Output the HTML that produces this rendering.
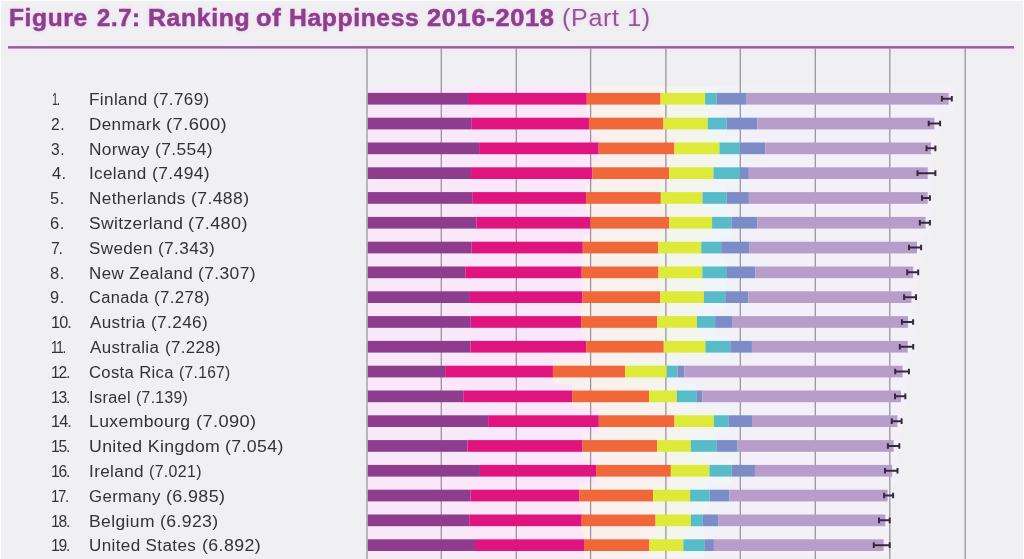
<!DOCTYPE html>
<html><head><meta charset="utf-8"><title>Figure 2.7</title>
<style>
html,body{margin:0;padding:0;}
body{width:1024px;height:559px;overflow:hidden;background:#f0f0f2;position:relative;font-family:"Liberation Sans",sans-serif;}
#title{position:absolute;left:0;top:3.0px;font-size:23px;line-height:30px;color:#8c3f8b;white-space:nowrap;letter-spacing:0.6px;-webkit-text-stroke:0.5px #8c3f8b;}
.tw{position:absolute;top:0;transform-origin:0 0;}
#title b{font-weight:bold;}
#title span{font-weight:normal;color:#8f5a93;-webkit-text-stroke:0;}
#rule{position:absolute;left:8px;top:46.3px;width:1006px;height:2.4px;background:#93609a;}
.lab{position:absolute;font-size:16px;line-height:18px;color:#333;white-space:nowrap;letter-spacing:0.35px;transform-origin:0 0;}
.rk{letter-spacing:-0.4px;}
svg{position:absolute;left:0;top:0;filter:blur(0.5px);}
#title,.lab{filter:blur(0.45px);}
#title{text-shadow:0 0 3px #f1d3f5,0 0 5px #f1d3f5;}
.edge{position:absolute;background:#fdfdfd;}
</style></head><body>

<div id="title"><b class="tw" style="left:8.53px;transform:scaleX(1.065)">Figure</b> <b class="tw" style="left:97.10px;transform:scaleX(1.038)">2.7:</b> <b class="tw" style="left:148.02px;transform:scaleX(1.077)">Ranking</b> <b class="tw" style="left:256.39px;transform:scaleX(1.109)">of</b> <b class="tw" style="left:289.23px;transform:scaleX(1.071)">Happiness</b> <b class="tw" style="left:426.70px;transform:scaleX(1.106)">2016-2018</b> <span class="tw" style="left:562.31px;transform:scaleX(1.090)">(Part 1)</span></div>
<svg width="1024" height="575" viewBox="0 0 1024 575">
<defs><linearGradient id="pg" x1="0" y1="0" x2="0" y2="1"><stop offset="0" stop-color="#f8e6fa" stop-opacity="0"/><stop offset="0.3" stop-color="#f8e6fa" stop-opacity="1"/><stop offset="0.62" stop-color="#f8e6fa" stop-opacity="1"/><stop offset="1" stop-color="#f8e6fa" stop-opacity="0"/></linearGradient></defs>
<rect x="6" y="41" width="1010" height="14" fill="url(#pg)"/>
<rect x="8" y="46.05" width="1006" height="2.5" fill="#8e6893"/>

<rect x="367.80" y="86.35" width="100.30" height="24.85" fill="#F8E8FA"/>
<rect x="468.05" y="86.35" width="118.77" height="24.85" fill="#FBE6FA"/>
<rect x="586.77" y="86.35" width="73.81" height="24.85" fill="#FAF1EF"/>
<rect x="660.53" y="86.35" width="44.64" height="24.85" fill="#F4F5EC"/>
<rect x="705.12" y="86.35" width="11.50" height="24.85" fill="#EFF5F8"/>
<rect x="716.56" y="86.35" width="29.45" height="24.85" fill="#F1F1FA"/>
<rect x="745.96" y="86.35" width="207.74" height="24.85" fill="#F3F0F8"/>
<rect x="367.80" y="111.15" width="103.51" height="24.85" fill="#F8E8FA"/>
<rect x="471.26" y="111.15" width="117.73" height="24.85" fill="#FBE6FA"/>
<rect x="588.94" y="111.15" width="74.56" height="24.85" fill="#FAF1EF"/>
<rect x="663.45" y="111.15" width="44.34" height="24.85" fill="#F4F5EC"/>
<rect x="707.74" y="111.15" width="18.90" height="24.85" fill="#EFF5F8"/>
<rect x="726.59" y="111.15" width="30.72" height="24.85" fill="#F1F1FA"/>
<rect x="757.26" y="111.15" width="182.14" height="24.85" fill="#F3F0F8"/>
<rect x="367.80" y="135.95" width="111.37" height="24.85" fill="#F8E8FA"/>
<rect x="479.12" y="135.95" width="119.60" height="24.85" fill="#FBE6FA"/>
<rect x="598.66" y="135.95" width="75.76" height="24.85" fill="#FAF1EF"/>
<rect x="674.37" y="135.95" width="45.16" height="24.85" fill="#F4F5EC"/>
<rect x="719.48" y="135.95" width="20.32" height="24.85" fill="#EFF5F8"/>
<rect x="739.76" y="135.95" width="25.56" height="24.85" fill="#F1F1FA"/>
<rect x="765.27" y="135.95" width="170.63" height="24.85" fill="#F3F0F8"/>
<rect x="367.80" y="160.75" width="103.29" height="24.85" fill="#F8E8FA"/>
<rect x="471.04" y="160.75" width="121.54" height="24.85" fill="#FBE6FA"/>
<rect x="592.53" y="160.75" width="76.81" height="24.85" fill="#FAF1EF"/>
<rect x="669.28" y="160.75" width="44.26" height="24.85" fill="#F4F5EC"/>
<rect x="713.50" y="160.75" width="26.53" height="24.85" fill="#EFF5F8"/>
<rect x="739.98" y="160.75" width="8.88" height="24.85" fill="#F1F1FA"/>
<rect x="748.81" y="160.75" width="183.89" height="24.85" fill="#F3F0F8"/>
<rect x="367.80" y="185.55" width="104.48" height="24.85" fill="#F8E8FA"/>
<rect x="472.23" y="185.55" width="113.91" height="24.85" fill="#FBE6FA"/>
<rect x="586.10" y="185.55" width="74.79" height="24.85" fill="#FAF1EF"/>
<rect x="660.83" y="185.55" width="41.72" height="24.85" fill="#F4F5EC"/>
<rect x="702.50" y="185.55" width="24.14" height="24.85" fill="#EFF5F8"/>
<rect x="726.59" y="185.55" width="22.34" height="24.85" fill="#F1F1FA"/>
<rect x="748.88" y="185.55" width="183.82" height="24.85" fill="#F3F0F8"/>
<rect x="367.80" y="210.35" width="108.67" height="24.85" fill="#F8E8FA"/>
<rect x="476.42" y="210.35" width="114.21" height="24.85" fill="#FBE6FA"/>
<rect x="590.58" y="210.35" width="78.75" height="24.85" fill="#FAF1EF"/>
<rect x="669.28" y="210.35" width="42.84" height="24.85" fill="#F4F5EC"/>
<rect x="712.08" y="210.35" width="19.73" height="24.85" fill="#EFF5F8"/>
<rect x="731.75" y="210.35" width="25.71" height="24.85" fill="#F1F1FA"/>
<rect x="757.41" y="210.35" width="173.09" height="24.85" fill="#F3F0F8"/>
<rect x="367.80" y="235.15" width="103.81" height="24.85" fill="#F8E8FA"/>
<rect x="471.56" y="235.15" width="111.29" height="24.85" fill="#FBE6FA"/>
<rect x="582.80" y="235.15" width="75.53" height="24.85" fill="#FAF1EF"/>
<rect x="658.29" y="235.15" width="42.99" height="24.85" fill="#F4F5EC"/>
<rect x="701.23" y="235.15" width="20.02" height="24.85" fill="#EFF5F8"/>
<rect x="721.20" y="235.15" width="27.95" height="24.85" fill="#F1F1FA"/>
<rect x="749.11" y="235.15" width="172.89" height="24.85" fill="#F3F0F8"/>
<rect x="367.80" y="259.95" width="97.53" height="24.85" fill="#F8E8FA"/>
<rect x="465.28" y="259.95" width="116.53" height="24.85" fill="#FBE6FA"/>
<rect x="581.76" y="259.95" width="76.81" height="24.85" fill="#FAF1EF"/>
<rect x="658.51" y="259.95" width="43.81" height="24.85" fill="#F4F5EC"/>
<rect x="702.28" y="259.95" width="24.74" height="24.85" fill="#EFF5F8"/>
<rect x="726.96" y="259.95" width="28.48" height="24.85" fill="#F1F1FA"/>
<rect x="755.39" y="259.95" width="162.81" height="24.85" fill="#F3F0F8"/>
<rect x="367.80" y="284.75" width="102.17" height="24.85" fill="#F8E8FA"/>
<rect x="469.92" y="284.75" width="112.64" height="24.85" fill="#FBE6FA"/>
<rect x="582.50" y="284.75" width="77.78" height="24.85" fill="#FAF1EF"/>
<rect x="660.23" y="284.75" width="43.74" height="24.85" fill="#F4F5EC"/>
<rect x="703.92" y="284.75" width="21.37" height="24.85" fill="#EFF5F8"/>
<rect x="725.24" y="284.75" width="23.09" height="24.85" fill="#F1F1FA"/>
<rect x="748.28" y="284.75" width="168.12" height="24.85" fill="#F3F0F8"/>
<rect x="367.80" y="309.55" width="102.99" height="24.85" fill="#F8E8FA"/>
<rect x="470.74" y="309.55" width="110.39" height="24.85" fill="#FBE6FA"/>
<rect x="581.08" y="309.55" width="76.06" height="24.85" fill="#FAF1EF"/>
<rect x="657.09" y="309.55" width="39.85" height="24.85" fill="#F4F5EC"/>
<rect x="696.89" y="309.55" width="18.30" height="24.85" fill="#EFF5F8"/>
<rect x="715.14" y="309.55" width="16.96" height="24.85" fill="#F1F1FA"/>
<rect x="732.05" y="309.55" width="180.95" height="24.85" fill="#F3F0F8"/>
<rect x="367.80" y="334.35" width="102.69" height="24.85" fill="#F8E8FA"/>
<rect x="470.44" y="334.35" width="115.86" height="24.85" fill="#FBE6FA"/>
<rect x="586.25" y="334.35" width="77.55" height="24.85" fill="#FAF1EF"/>
<rect x="663.75" y="334.35" width="41.72" height="24.85" fill="#F4F5EC"/>
<rect x="705.42" y="334.35" width="24.89" height="24.85" fill="#EFF5F8"/>
<rect x="730.25" y="334.35" width="21.74" height="24.85" fill="#F1F1FA"/>
<rect x="751.95" y="334.35" width="160.75" height="24.85" fill="#F3F0F8"/>
<rect x="367.80" y="359.15" width="77.40" height="24.85" fill="#F8E8FA"/>
<rect x="445.15" y="359.15" width="107.85" height="24.85" fill="#FBE6FA"/>
<rect x="552.95" y="359.15" width="72.09" height="24.85" fill="#FAF1EF"/>
<rect x="625.00" y="359.15" width="41.79" height="24.85" fill="#F4F5EC"/>
<rect x="666.74" y="359.15" width="10.82" height="24.85" fill="#EFF5F8"/>
<rect x="677.51" y="359.15" width="7.01" height="24.85" fill="#F1F1FA"/>
<rect x="684.47" y="359.15" width="223.13" height="24.85" fill="#F3F0F8"/>
<rect x="367.80" y="383.95" width="95.51" height="24.85" fill="#F8E8FA"/>
<rect x="463.26" y="383.95" width="108.90" height="24.85" fill="#FBE6FA"/>
<rect x="572.11" y="383.95" width="77.03" height="24.85" fill="#FAF1EF"/>
<rect x="649.09" y="383.95" width="27.80" height="24.85" fill="#F4F5EC"/>
<rect x="676.84" y="383.95" width="19.58" height="24.85" fill="#EFF5F8"/>
<rect x="696.37" y="383.95" width="6.18" height="24.85" fill="#F1F1FA"/>
<rect x="702.50" y="383.95" width="203.50" height="24.85" fill="#F3F0F8"/>
<rect x="367.80" y="408.75" width="120.42" height="24.85" fill="#F8E8FA"/>
<rect x="488.17" y="408.75" width="110.69" height="24.85" fill="#FBE6FA"/>
<rect x="598.81" y="408.75" width="75.76" height="24.85" fill="#FAF1EF"/>
<rect x="674.52" y="408.75" width="39.40" height="24.85" fill="#F4F5EC"/>
<rect x="713.87" y="408.75" width="14.56" height="24.85" fill="#EFF5F8"/>
<rect x="728.38" y="408.75" width="23.69" height="24.85" fill="#F1F1FA"/>
<rect x="752.02" y="408.75" width="150.38" height="24.85" fill="#F3F0F8"/>
<rect x="367.80" y="433.55" width="99.77" height="24.85" fill="#F8E8FA"/>
<rect x="467.52" y="433.55" width="115.11" height="24.85" fill="#FBE6FA"/>
<rect x="582.58" y="433.55" width="74.56" height="24.85" fill="#FAF1EF"/>
<rect x="657.09" y="433.55" width="33.71" height="24.85" fill="#F4F5EC"/>
<rect x="690.75" y="433.55" width="26.08" height="24.85" fill="#EFF5F8"/>
<rect x="716.79" y="433.55" width="20.85" height="24.85" fill="#F1F1FA"/>
<rect x="737.59" y="433.55" width="161.01" height="24.85" fill="#F3F0F8"/>
<rect x="367.80" y="458.35" width="112.19" height="24.85" fill="#F8E8FA"/>
<rect x="479.94" y="458.35" width="116.23" height="24.85" fill="#FBE6FA"/>
<rect x="596.12" y="458.35" width="74.79" height="24.85" fill="#FAF1EF"/>
<rect x="670.86" y="458.35" width="38.65" height="24.85" fill="#F4F5EC"/>
<rect x="709.46" y="458.35" width="22.34" height="24.85" fill="#EFF5F8"/>
<rect x="731.75" y="458.35" width="23.24" height="24.85" fill="#F1F1FA"/>
<rect x="754.94" y="458.35" width="142.16" height="24.85" fill="#F3F0F8"/>
<rect x="367.80" y="483.15" width="102.76" height="24.85" fill="#F8E8FA"/>
<rect x="470.51" y="483.15" width="108.82" height="24.85" fill="#FBE6FA"/>
<rect x="579.29" y="483.15" width="73.89" height="24.85" fill="#FAF1EF"/>
<rect x="653.13" y="483.15" width="37.08" height="24.85" fill="#F4F5EC"/>
<rect x="690.16" y="483.15" width="19.58" height="24.85" fill="#EFF5F8"/>
<rect x="709.68" y="483.15" width="19.87" height="24.85" fill="#F1F1FA"/>
<rect x="729.51" y="483.15" width="163.09" height="24.85" fill="#F3F0F8"/>
<rect x="367.80" y="507.95" width="101.49" height="24.85" fill="#F8E8FA"/>
<rect x="469.24" y="507.95" width="112.56" height="24.85" fill="#FBE6FA"/>
<rect x="581.76" y="507.95" width="73.81" height="24.85" fill="#FAF1EF"/>
<rect x="655.52" y="507.95" width="35.44" height="24.85" fill="#F4F5EC"/>
<rect x="690.90" y="507.95" width="12.02" height="24.85" fill="#EFF5F8"/>
<rect x="702.87" y="507.95" width="15.76" height="24.85" fill="#F1F1FA"/>
<rect x="718.58" y="507.95" width="171.72" height="24.85" fill="#F3F0F8"/>
<rect x="367.80" y="532.75" width="107.25" height="24.85" fill="#F8E8FA"/>
<rect x="475.00" y="532.75" width="109.05" height="24.85" fill="#FBE6FA"/>
<rect x="584.00" y="532.75" width="65.43" height="24.85" fill="#FAF1EF"/>
<rect x="649.38" y="532.75" width="34.01" height="24.85" fill="#F4F5EC"/>
<rect x="683.35" y="532.75" width="21.00" height="24.85" fill="#EFF5F8"/>
<rect x="704.30" y="532.75" width="9.63" height="24.85" fill="#F1F1FA"/>
<rect x="713.87" y="532.75" width="174.73" height="24.85" fill="#F3F0F8"/>
<rect x="366.35" y="48" width="1.3" height="525" fill="#98959b"/>
<rect x="440.65" y="48" width="1.3" height="525" fill="#98959b"/>
<rect x="515.65" y="48" width="1.3" height="525" fill="#98959b"/>
<rect x="589.95" y="48" width="1.3" height="525" fill="#98959b"/>
<rect x="665.25" y="48" width="1.3" height="525" fill="#98959b"/>
<rect x="739.65" y="48" width="1.3" height="525" fill="#98959b"/>
<rect x="814.65" y="48" width="1.3" height="525" fill="#98959b"/>
<rect x="889.15" y="48" width="1.3" height="525" fill="#98959b"/>
<rect x="964.55" y="48" width="1.3" height="525" fill="#98959b"/>
<rect x="367.80" y="92.90" width="100.25" height="11.7" fill="#8E3C8D"/>
<rect x="468.05" y="92.90" width="118.72" height="11.7" fill="#E0147F"/>
<rect x="586.77" y="92.90" width="73.76" height="11.7" fill="#F0683A"/>
<rect x="660.53" y="92.90" width="44.59" height="11.7" fill="#DDEA3A"/>
<rect x="705.12" y="92.90" width="11.45" height="11.7" fill="#58BCC8"/>
<rect x="716.56" y="92.90" width="29.40" height="11.7" fill="#7B8CC6"/>
<rect x="745.96" y="92.90" width="202.74" height="11.7" fill="#B79ECA"/>
<path d="M941.90 98.75H951.80M941.90 95.95v5.6M951.80 95.95v5.6" stroke="#35283f" stroke-width="2" fill="none"/>
<rect x="367.80" y="117.70" width="103.46" height="11.7" fill="#8E3C8D"/>
<rect x="471.26" y="117.70" width="117.68" height="11.7" fill="#E0147F"/>
<rect x="588.94" y="117.70" width="74.51" height="11.7" fill="#F0683A"/>
<rect x="663.45" y="117.70" width="44.29" height="11.7" fill="#DDEA3A"/>
<rect x="707.74" y="117.70" width="18.85" height="11.7" fill="#58BCC8"/>
<rect x="726.59" y="117.70" width="30.67" height="11.7" fill="#7B8CC6"/>
<rect x="757.26" y="117.70" width="177.14" height="11.7" fill="#B79ECA"/>
<path d="M928.70 123.55H940.10M928.70 120.75v5.6M940.10 120.75v5.6" stroke="#35283f" stroke-width="2" fill="none"/>
<rect x="367.80" y="142.50" width="111.32" height="11.7" fill="#8E3C8D"/>
<rect x="479.12" y="142.50" width="119.55" height="11.7" fill="#E0147F"/>
<rect x="598.66" y="142.50" width="75.71" height="11.7" fill="#F0683A"/>
<rect x="674.37" y="142.50" width="45.11" height="11.7" fill="#DDEA3A"/>
<rect x="719.48" y="142.50" width="20.27" height="11.7" fill="#58BCC8"/>
<rect x="739.76" y="142.50" width="25.51" height="11.7" fill="#7B8CC6"/>
<rect x="765.27" y="142.50" width="165.63" height="11.7" fill="#B79ECA"/>
<path d="M926.50 148.35H935.40M926.50 145.55v5.6M935.40 145.55v5.6" stroke="#35283f" stroke-width="2" fill="none"/>
<rect x="367.80" y="167.30" width="103.24" height="11.7" fill="#8E3C8D"/>
<rect x="471.04" y="167.30" width="121.49" height="11.7" fill="#E0147F"/>
<rect x="592.53" y="167.30" width="76.76" height="11.7" fill="#F0683A"/>
<rect x="669.28" y="167.30" width="44.21" height="11.7" fill="#DDEA3A"/>
<rect x="713.50" y="167.30" width="26.48" height="11.7" fill="#58BCC8"/>
<rect x="739.98" y="167.30" width="8.83" height="11.7" fill="#7B8CC6"/>
<rect x="748.81" y="167.30" width="178.89" height="11.7" fill="#B79ECA"/>
<path d="M917.50 173.15H935.40M917.50 170.35v5.6M935.40 170.35v5.6" stroke="#35283f" stroke-width="2" fill="none"/>
<rect x="367.80" y="192.10" width="104.43" height="11.7" fill="#8E3C8D"/>
<rect x="472.23" y="192.10" width="113.86" height="11.7" fill="#E0147F"/>
<rect x="586.10" y="192.10" width="74.74" height="11.7" fill="#F0683A"/>
<rect x="660.83" y="192.10" width="41.67" height="11.7" fill="#DDEA3A"/>
<rect x="702.50" y="192.10" width="24.09" height="11.7" fill="#58BCC8"/>
<rect x="726.59" y="192.10" width="22.29" height="11.7" fill="#7B8CC6"/>
<rect x="748.88" y="192.10" width="178.82" height="11.7" fill="#B79ECA"/>
<path d="M922.00 197.95H929.90M922.00 195.15v5.6M929.90 195.15v5.6" stroke="#35283f" stroke-width="2" fill="none"/>
<rect x="367.80" y="216.90" width="108.62" height="11.7" fill="#8E3C8D"/>
<rect x="476.42" y="216.90" width="114.16" height="11.7" fill="#E0147F"/>
<rect x="590.58" y="216.90" width="78.70" height="11.7" fill="#F0683A"/>
<rect x="669.28" y="216.90" width="42.79" height="11.7" fill="#DDEA3A"/>
<rect x="712.08" y="216.90" width="19.68" height="11.7" fill="#58BCC8"/>
<rect x="731.75" y="216.90" width="25.66" height="11.7" fill="#7B8CC6"/>
<rect x="757.41" y="216.90" width="168.09" height="11.7" fill="#B79ECA"/>
<path d="M919.80 222.75H929.90M919.80 219.95v5.6M929.90 219.95v5.6" stroke="#35283f" stroke-width="2" fill="none"/>
<rect x="367.80" y="241.70" width="103.76" height="11.7" fill="#8E3C8D"/>
<rect x="471.56" y="241.70" width="111.24" height="11.7" fill="#E0147F"/>
<rect x="582.80" y="241.70" width="75.48" height="11.7" fill="#F0683A"/>
<rect x="658.29" y="241.70" width="42.94" height="11.7" fill="#DDEA3A"/>
<rect x="701.23" y="241.70" width="19.97" height="11.7" fill="#58BCC8"/>
<rect x="721.20" y="241.70" width="27.90" height="11.7" fill="#7B8CC6"/>
<rect x="749.11" y="241.70" width="167.89" height="11.7" fill="#B79ECA"/>
<path d="M909.00 247.55H921.10M909.00 244.75v5.6M921.10 244.75v5.6" stroke="#35283f" stroke-width="2" fill="none"/>
<rect x="367.80" y="266.50" width="97.48" height="11.7" fill="#8E3C8D"/>
<rect x="465.28" y="266.50" width="116.48" height="11.7" fill="#E0147F"/>
<rect x="581.76" y="266.50" width="76.76" height="11.7" fill="#F0683A"/>
<rect x="658.51" y="266.50" width="43.76" height="11.7" fill="#DDEA3A"/>
<rect x="702.28" y="266.50" width="24.69" height="11.7" fill="#58BCC8"/>
<rect x="726.96" y="266.50" width="28.43" height="11.7" fill="#7B8CC6"/>
<rect x="755.39" y="266.50" width="157.81" height="11.7" fill="#B79ECA"/>
<path d="M907.20 272.35H918.20M907.20 269.55v5.6M918.20 269.55v5.6" stroke="#35283f" stroke-width="2" fill="none"/>
<rect x="367.80" y="291.30" width="102.12" height="11.7" fill="#8E3C8D"/>
<rect x="469.92" y="291.30" width="112.59" height="11.7" fill="#E0147F"/>
<rect x="582.50" y="291.30" width="77.73" height="11.7" fill="#F0683A"/>
<rect x="660.23" y="291.30" width="43.69" height="11.7" fill="#DDEA3A"/>
<rect x="703.92" y="291.30" width="21.32" height="11.7" fill="#58BCC8"/>
<rect x="725.24" y="291.30" width="23.04" height="11.7" fill="#7B8CC6"/>
<rect x="748.28" y="291.30" width="163.12" height="11.7" fill="#B79ECA"/>
<path d="M904.10 297.15H916.00M904.10 294.35v5.6M916.00 294.35v5.6" stroke="#35283f" stroke-width="2" fill="none"/>
<rect x="367.80" y="316.10" width="102.94" height="11.7" fill="#8E3C8D"/>
<rect x="470.74" y="316.10" width="110.34" height="11.7" fill="#E0147F"/>
<rect x="581.08" y="316.10" width="76.01" height="11.7" fill="#F0683A"/>
<rect x="657.09" y="316.10" width="39.80" height="11.7" fill="#DDEA3A"/>
<rect x="696.89" y="316.10" width="18.25" height="11.7" fill="#58BCC8"/>
<rect x="715.14" y="316.10" width="16.91" height="11.7" fill="#7B8CC6"/>
<rect x="732.05" y="316.10" width="175.95" height="11.7" fill="#B79ECA"/>
<path d="M901.90 321.95H913.10M901.90 319.15v5.6M913.10 319.15v5.6" stroke="#35283f" stroke-width="2" fill="none"/>
<rect x="367.80" y="340.90" width="102.64" height="11.7" fill="#8E3C8D"/>
<rect x="470.44" y="340.90" width="115.81" height="11.7" fill="#E0147F"/>
<rect x="586.25" y="340.90" width="77.50" height="11.7" fill="#F0683A"/>
<rect x="663.75" y="340.90" width="41.67" height="11.7" fill="#DDEA3A"/>
<rect x="705.42" y="340.90" width="24.84" height="11.7" fill="#58BCC8"/>
<rect x="730.25" y="340.90" width="21.69" height="11.7" fill="#7B8CC6"/>
<rect x="751.95" y="340.90" width="155.75" height="11.7" fill="#B79ECA"/>
<path d="M899.80 346.75H913.20M899.80 343.95v5.6M913.20 343.95v5.6" stroke="#35283f" stroke-width="2" fill="none"/>
<rect x="367.80" y="365.70" width="77.35" height="11.7" fill="#8E3C8D"/>
<rect x="445.15" y="365.70" width="107.80" height="11.7" fill="#E0147F"/>
<rect x="552.95" y="365.70" width="72.04" height="11.7" fill="#F0683A"/>
<rect x="625.00" y="365.70" width="41.74" height="11.7" fill="#DDEA3A"/>
<rect x="666.74" y="365.70" width="10.77" height="11.7" fill="#58BCC8"/>
<rect x="677.51" y="365.70" width="6.96" height="11.7" fill="#7B8CC6"/>
<rect x="684.47" y="365.70" width="218.13" height="11.7" fill="#B79ECA"/>
<path d="M895.25 371.55H908.95M895.25 368.75v5.6M908.95 368.75v5.6" stroke="#35283f" stroke-width="2" fill="none"/>
<rect x="367.80" y="390.50" width="95.46" height="11.7" fill="#8E3C8D"/>
<rect x="463.26" y="390.50" width="108.85" height="11.7" fill="#E0147F"/>
<rect x="572.11" y="390.50" width="76.98" height="11.7" fill="#F0683A"/>
<rect x="649.09" y="390.50" width="27.75" height="11.7" fill="#DDEA3A"/>
<rect x="676.84" y="390.50" width="19.53" height="11.7" fill="#58BCC8"/>
<rect x="696.37" y="390.50" width="6.13" height="11.7" fill="#7B8CC6"/>
<rect x="702.50" y="390.50" width="198.50" height="11.7" fill="#B79ECA"/>
<path d="M895.05 396.35H905.35M895.05 393.55v5.6M905.35 393.55v5.6" stroke="#35283f" stroke-width="2" fill="none"/>
<rect x="367.80" y="415.30" width="120.37" height="11.7" fill="#8E3C8D"/>
<rect x="488.17" y="415.30" width="110.64" height="11.7" fill="#E0147F"/>
<rect x="598.81" y="415.30" width="75.71" height="11.7" fill="#F0683A"/>
<rect x="674.52" y="415.30" width="39.35" height="11.7" fill="#DDEA3A"/>
<rect x="713.87" y="415.30" width="14.51" height="11.7" fill="#58BCC8"/>
<rect x="728.38" y="415.30" width="23.64" height="11.7" fill="#7B8CC6"/>
<rect x="752.02" y="415.30" width="145.38" height="11.7" fill="#B79ECA"/>
<path d="M891.70 421.15H901.60M891.70 418.35v5.6M901.60 418.35v5.6" stroke="#35283f" stroke-width="2" fill="none"/>
<rect x="367.80" y="440.10" width="99.72" height="11.7" fill="#8E3C8D"/>
<rect x="467.52" y="440.10" width="115.06" height="11.7" fill="#E0147F"/>
<rect x="582.58" y="440.10" width="74.51" height="11.7" fill="#F0683A"/>
<rect x="657.09" y="440.10" width="33.66" height="11.7" fill="#DDEA3A"/>
<rect x="690.75" y="440.10" width="26.03" height="11.7" fill="#58BCC8"/>
<rect x="716.79" y="440.10" width="20.80" height="11.7" fill="#7B8CC6"/>
<rect x="737.59" y="440.10" width="156.01" height="11.7" fill="#B79ECA"/>
<path d="M887.90 445.95H899.30M887.90 443.15v5.6M899.30 443.15v5.6" stroke="#35283f" stroke-width="2" fill="none"/>
<rect x="367.80" y="464.90" width="112.14" height="11.7" fill="#8E3C8D"/>
<rect x="479.94" y="464.90" width="116.18" height="11.7" fill="#E0147F"/>
<rect x="596.12" y="464.90" width="74.74" height="11.7" fill="#F0683A"/>
<rect x="670.86" y="464.90" width="38.60" height="11.7" fill="#DDEA3A"/>
<rect x="709.46" y="464.90" width="22.29" height="11.7" fill="#58BCC8"/>
<rect x="731.75" y="464.90" width="23.19" height="11.7" fill="#7B8CC6"/>
<rect x="754.94" y="464.90" width="137.16" height="11.7" fill="#B79ECA"/>
<path d="M885.00 470.75H897.50M885.00 467.95v5.6M897.50 467.95v5.6" stroke="#35283f" stroke-width="2" fill="none"/>
<rect x="367.80" y="489.70" width="102.71" height="11.7" fill="#8E3C8D"/>
<rect x="470.51" y="489.70" width="108.77" height="11.7" fill="#E0147F"/>
<rect x="579.29" y="489.70" width="73.84" height="11.7" fill="#F0683A"/>
<rect x="653.13" y="489.70" width="37.03" height="11.7" fill="#DDEA3A"/>
<rect x="690.16" y="489.70" width="19.53" height="11.7" fill="#58BCC8"/>
<rect x="709.68" y="489.70" width="19.82" height="11.7" fill="#7B8CC6"/>
<rect x="729.51" y="489.70" width="158.09" height="11.7" fill="#B79ECA"/>
<path d="M884.10 495.55H893.10M884.10 492.75v5.6M893.10 492.75v5.6" stroke="#35283f" stroke-width="2" fill="none"/>
<rect x="367.80" y="514.50" width="101.44" height="11.7" fill="#8E3C8D"/>
<rect x="469.24" y="514.50" width="112.51" height="11.7" fill="#E0147F"/>
<rect x="581.76" y="514.50" width="73.76" height="11.7" fill="#F0683A"/>
<rect x="655.52" y="514.50" width="35.39" height="11.7" fill="#DDEA3A"/>
<rect x="690.90" y="514.50" width="11.97" height="11.7" fill="#58BCC8"/>
<rect x="702.87" y="514.50" width="15.71" height="11.7" fill="#7B8CC6"/>
<rect x="718.58" y="514.50" width="166.72" height="11.7" fill="#B79ECA"/>
<path d="M879.00 520.35H889.70M879.00 517.55v5.6M889.70 517.55v5.6" stroke="#35283f" stroke-width="2" fill="none"/>
<rect x="367.80" y="539.30" width="107.20" height="11.7" fill="#8E3C8D"/>
<rect x="475.00" y="539.30" width="109.00" height="11.7" fill="#E0147F"/>
<rect x="584.00" y="539.30" width="65.38" height="11.7" fill="#F0683A"/>
<rect x="649.38" y="539.30" width="33.96" height="11.7" fill="#DDEA3A"/>
<rect x="683.35" y="539.30" width="20.95" height="11.7" fill="#58BCC8"/>
<rect x="704.30" y="539.30" width="9.58" height="11.7" fill="#7B8CC6"/>
<rect x="713.87" y="539.30" width="169.73" height="11.7" fill="#B79ECA"/>
<path d="M873.80 545.15H889.70M873.80 542.35v5.6M889.70 542.35v5.6" stroke="#35283f" stroke-width="2" fill="none"/>
</svg>

<div class="lab rk" style="left:51.52px;top:91.0px;letter-spacing:-1.4px;transform:scaleX(0.680)">1.</div>
<div class="lab" style="left:88.98px;top:91.0px;transform:scaleX(1.069)">Finland</div>
<div class="lab" style="left:153.24px;top:91.0px;transform:scaleX(1.063)">(7.769)</div>
<div class="lab rk" style="left:50.52px;top:115.8px;letter-spacing:0.6px;transform:scaleX(0.975)">2.</div>
<div class="lab" style="left:88.98px;top:115.8px;transform:scaleX(1.066)">Denmark</div>
<div class="lab" style="left:166.25px;top:115.8px;transform:scaleX(1.149)">(7.600)</div>
<div class="lab rk" style="left:50.52px;top:140.6px;letter-spacing:0.6px;transform:scaleX(0.975)">3.</div>
<div class="lab" style="left:88.97px;top:140.6px;transform:scaleX(1.079)">Norway</div>
<div class="lab" style="left:155.41px;top:140.6px;transform:scaleX(1.090)">(7.554)</div>
<div class="lab rk" style="left:51.50px;top:165.4px;letter-spacing:0.4px;transform:scaleX(1.033)">4.</div>
<div class="lab" style="left:88.98px;top:165.4px;transform:scaleX(1.066)">Iceland</div>
<div class="lab" style="left:151.71px;top:165.4px;transform:scaleX(1.092)">(7.494)</div>
<div class="lab rk" style="left:50.48px;top:190.2px;letter-spacing:0.6px;transform:scaleX(1.017)">5.</div>
<div class="lab" style="left:88.98px;top:190.2px;transform:scaleX(1.073)">Netherlands</div>
<div class="lab" style="left:190.80px;top:190.2px;transform:scaleX(1.100)">(7.488)</div>
<div class="lab rk" style="left:50.47px;top:215.0px;letter-spacing:0.6px;transform:scaleX(1.033)">6.</div>
<div class="lab" style="left:88.96px;top:215.0px;transform:scaleX(1.090)">Switzerland</div>
<div class="lab" style="left:187.77px;top:215.0px;transform:scaleX(1.125)">(7.480)</div>
<div class="lab rk" style="left:51.22px;top:239.8px;letter-spacing:-1.2px;transform:scaleX(0.980)">7.</div>
<div class="lab" style="left:88.99px;top:239.8px;transform:scaleX(1.065)">Sweden</div>
<div class="lab" style="left:157.82px;top:239.8px;transform:scaleX(1.076)">(7.343)</div>
<div class="lab rk" style="left:50.47px;top:264.6px;letter-spacing:0.6px;transform:scaleX(1.033)">8.</div>
<div class="lab" style="left:88.99px;top:264.6px;transform:scaleX(1.061)">New Zealand</div>
<div class="lab" style="left:198.11px;top:264.6px;transform:scaleX(1.090)">(7.307)</div>
<div class="lab rk" style="left:50.48px;top:289.4px;letter-spacing:0.6px;transform:scaleX(1.017)">9.</div>
<div class="lab" style="left:89.02px;top:289.4px;transform:scaleX(1.027)">Canada</div>
<div class="lab" style="left:154.15px;top:289.4px;transform:scaleX(1.053)">(7.278)</div>
<div class="lab rk" style="left:51.18px;top:314.2px;letter-spacing:-0.85px;transform:scaleX(1.017)">10.</div>
<div class="lab" style="left:90.05px;top:314.2px;transform:scaleX(1.066)">Austria</div>
<div class="lab" style="left:151.22px;top:314.2px;transform:scaleX(1.076)">(7.246)</div>
<div class="lab rk" style="left:51.36px;top:339.0px;letter-spacing:-1.4px;transform:scaleX(0.837)">11.</div>
<div class="lab" style="left:90.05px;top:339.0px;transform:scaleX(1.059)">Australia</div>
<div class="lab" style="left:164.65px;top:339.0px;transform:scaleX(1.053)">(7.228)</div>
<div class="lab rk" style="left:51.22px;top:363.8px;letter-spacing:-1.2px;transform:scaleX(0.978)">12.</div>
<div class="lab" style="left:89.01px;top:363.8px;transform:scaleX(1.038)">Costa Rica</div>
<div class="lab" style="left:179.43px;top:363.8px;transform:scaleX(0.971)">(7.167)</div>
<div class="lab rk" style="left:51.22px;top:388.6px;letter-spacing:-1.2px;transform:scaleX(0.978)">13.</div>
<div class="lab" style="left:89.03px;top:388.6px;transform:scaleX(1.019)">Israel</div>
<div class="lab" style="left:136.22px;top:388.6px;transform:scaleX(0.980)">(7.139)</div>
<div class="lab rk" style="left:51.18px;top:413.4px;letter-spacing:-0.85px;transform:scaleX(1.017)">14.</div>
<div class="lab" style="left:88.95px;top:413.4px;transform:scaleX(1.098)">Luxembourg</div>
<div class="lab" style="left:195.56px;top:413.4px;transform:scaleX(1.139)">(7.090)</div>
<div class="lab rk" style="left:51.22px;top:438.2px;letter-spacing:-1.2px;transform:scaleX(0.978)">15.</div>
<div class="lab" style="left:88.95px;top:438.2px;transform:scaleX(1.105)">United Kingdom</div>
<div class="lab" style="left:224.89px;top:438.2px;transform:scaleX(1.106)">(7.054)</div>
<div class="lab rk" style="left:51.22px;top:463.0px;letter-spacing:-1.2px;transform:scaleX(0.978)">16.</div>
<div class="lab" style="left:88.98px;top:463.0px;transform:scaleX(1.070)">Ireland</div>
<div class="lab" style="left:148.91px;top:463.0px;transform:scaleX(0.994)">(7.021)</div>
<div class="lab rk" style="left:51.26px;top:487.8px;letter-spacing:-1.4px;transform:scaleX(0.935)">17.</div>
<div class="lab" style="left:89.00px;top:487.8px;transform:scaleX(1.050)">Germany</div>
<div class="lab" style="left:166.28px;top:487.8px;transform:scaleX(1.116)">(6.985)</div>
<div class="lab rk" style="left:51.22px;top:512.6px;letter-spacing:-1.2px;transform:scaleX(0.978)">18.</div>
<div class="lab" style="left:88.96px;top:512.6px;transform:scaleX(1.094)">Belgium</div>
<div class="lab" style="left:159.70px;top:512.6px;transform:scaleX(1.102)">(6.923)</div>
<div class="lab rk" style="left:51.22px;top:537.4px;letter-spacing:-1.2px;transform:scaleX(0.978)">19.</div>
<div class="lab" style="left:88.98px;top:537.4px;transform:scaleX(1.065)">United States</div>
<div class="lab" style="left:201.99px;top:537.4px;transform:scaleX(1.110)">(6.892)</div>
<div class="edge" style="left:0;top:0;width:1024px;height:1.4px"></div><div class="edge" style="left:0;top:0;width:1px;height:559px"></div><div class="edge" style="left:1022.5px;top:0;width:1.5px;height:559px"></div>

</body></html>
